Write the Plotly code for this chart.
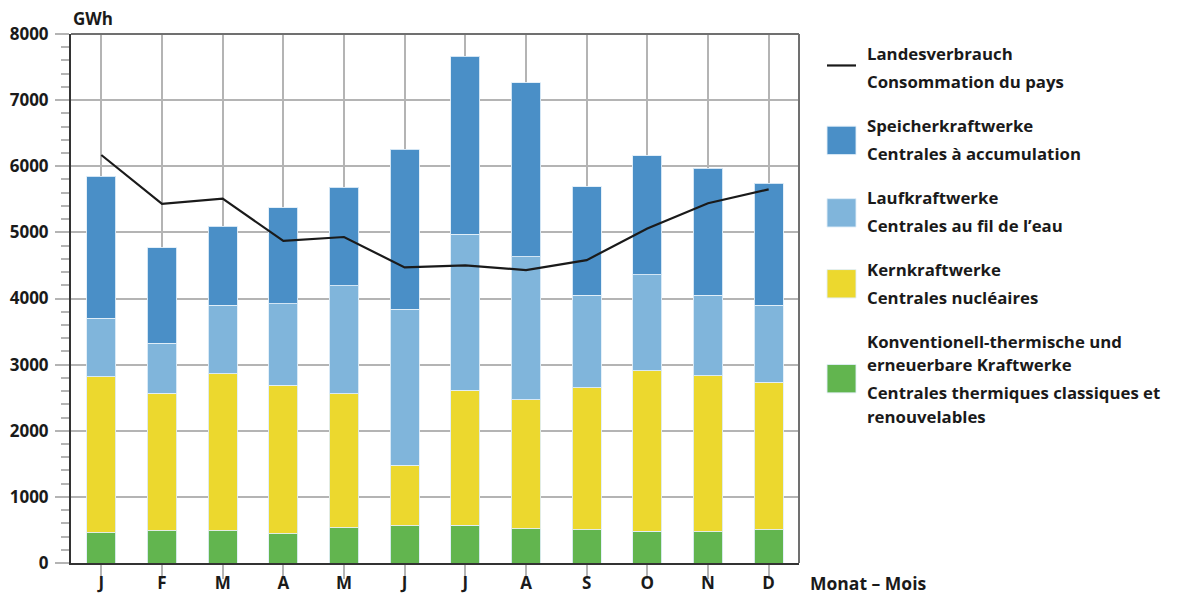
import plotly.graph_objects as go

# Monthly electricity balance (GWh)
months = ["J", "F", "M", "A", "M", "J", "J", "A", "S", "O", "N", "D"]
thermal = [460, 490, 490, 440, 530, 560, 570, 520, 500, 480, 470, 500]
nuclear = [2360, 2080, 2370, 2250, 2030, 920, 2040, 1950, 2150, 2430, 2360, 2230]
run_of_river = [880, 750, 1040, 1230, 1630, 2360, 2360, 2160, 1400, 1450, 1220, 1170]
storage = [2150, 1450, 1190, 1450, 1490, 2420, 2690, 2630, 1640, 1800, 1920, 1840]
consumption = [6170, 5430, 5510, 4870, 4930, 4470, 4500, 4430, 4580, 5060, 5440, 5650]

FONT = "Open Sans"
TXT = "#1a1a1a"
C_STORAGE = "#4a8fc7"
C_RIVER = "#80b5db"
C_NUCLEAR = "#ecd82e"
C_THERMAL = "#62b54f"

W, H = 1183, 595
L, R, T, B = 71, 799, 33.5, 563


def px(x):
    return (x - L) / (R - L)


def py(y):
    return (B - y) / (B - T)


x_idx = list(range(len(months)))
fig = go.Figure()

for vals, col in [(thermal, C_THERMAL), (nuclear, C_NUCLEAR),
                  (run_of_river, C_RIVER), (storage, C_STORAGE)]:
    fig.add_trace(go.Bar(
        x=x_idx, y=vals, marker=dict(color=col, line=dict(color="rgba(225,238,248,0.9)", width=1)),
        width=0.48, showlegend=False, hoverinfo="skip"))

fig.add_trace(go.Scatter(
    x=x_idx, y=consumption, mode="lines",
    line=dict(color="#1a1a1a", width=2.2), showlegend=False, hoverinfo="skip"))

# Legend drawn by hand: symbol + bilingual text
legend_items = [
    ("line", "#1a1a1a", 65, [("Landesverbrauch", 53), ("Consommation du pays", 81)]),
    ("box", C_STORAGE, 140, [("Speicherkraftwerke", 125), ("Centrales à accumulation", 153)]),
    ("box", C_RIVER, 212.5, [("Laufkraftwerke", 197), ("Centrales au fil de l’eau", 225)]),
    ("box", C_NUCLEAR, 283.5, [("Kernkraftwerke", 269), ("Centrales nucléaires", 297)]),
    ("box", C_THERMAL, 378.5, [("Konventionell-thermische und", 341),
                               ("erneuerbare Kraftwerke", 364),
                               ("Centrales thermiques classiques et", 392),
                               ("renouvelables", 416)]),
]

LEG_FONT = dict(family=FONT, size=16.8, color=TXT, weight=700)

shapes = []
annotations = []
for kind, col, yc, lines in legend_items:
    if kind == "line":
        shapes.append(dict(type="line", xref="paper", yref="paper",
                           x0=px(827), x1=px(856), y0=py(yc), y1=py(yc),
                           line=dict(color=col, width=2.2)))
    else:
        shapes.append(dict(type="rect", xref="paper", yref="paper",
                           x0=px(827), x1=px(856), y0=py(yc - 14.2), y1=py(yc + 14.2),
                           fillcolor=col, line=dict(color="rgba(225,238,248,0.9)", width=1)))
    for text, ty in lines:
        annotations.append(dict(text=text, xref="paper", yref="paper",
                                x=px(865), y=py(ty), xanchor="left", yanchor="middle",
                                showarrow=False, font=LEG_FONT))

annotations.append(dict(text="GWh", xref="paper", yref="paper", x=px(71), y=py(18),
                        xanchor="left", yanchor="middle", showarrow=False,
                        font=dict(family=FONT, size=17, color=TXT, weight=700)))
annotations.append(dict(text="Monat – Mois", xref="paper", yref="paper", x=px(808), y=py(583),
                        xanchor="left", yanchor="middle", showarrow=False,
                        font=dict(family=FONT, size=17.5, color=TXT, weight=700)))

# Top and right frame
shapes.append(dict(type="line", xref="paper", yref="paper", x0=0, x1=1, y0=1, y1=1,
                   line=dict(color="#707070", width=2)))
shapes.append(dict(type="line", xref="paper", yref="paper", x0=1, x1=1, y0=0, y1=1,
                   line=dict(color="#707070", width=2)))

fig.update_layout(
    width=W, height=H,
    margin=dict(l=L, r=W - R, t=T, b=H - B, autoexpand=False),
    paper_bgcolor="white", plot_bgcolor="white",
    barmode="stack", bargap=0.52,
    showlegend=False,
    shapes=shapes, annotations=annotations,
    font=dict(family=FONT, color=TXT),
)

fig.update_xaxes(
    tickmode="array", tickvals=x_idx, ticktext=months,
    range=[-0.5, 11.5], tickson="boundaries",
    showgrid=True, gridcolor="#b4b4b4", gridwidth=2,
    ticks="outside", ticklen=14, tickcolor="#b4b4b4", tickwidth=2,
    showline=True, linecolor="#333333", linewidth=2,
    tickfont=dict(family=FONT, size=17, color=TXT, weight=700),
    ticklabelstandoff=-10,
    zeroline=False, automargin=False,
)

fig.update_yaxes(
    range=[0, 8000], tick0=0, dtick=1000,
    showgrid=True, gridcolor="#b4b4b4", gridwidth=2,
    ticks="outside", ticklen=14, tickcolor="#b4b4b4", tickwidth=2,
    minor=dict(dtick=200, ticks="outside", ticklen=8, tickcolor="#b4b4b4", tickwidth=1.5, showgrid=False),
    showline=True, linecolor="#333333", linewidth=2,
    tickfont=dict(family=FONT, size=17, color=TXT, weight=700),
    zeroline=False, ticklabelstandoff=3, automargin=False,
)

fig.write_html("out.html")
